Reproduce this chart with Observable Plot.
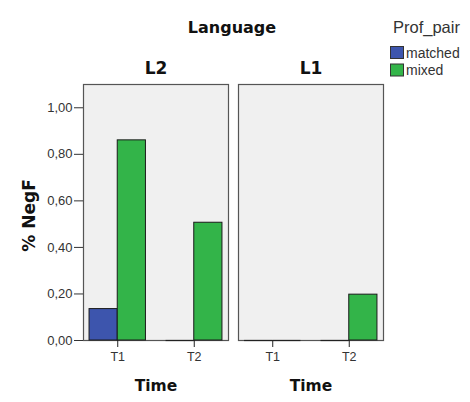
<!DOCTYPE html>
<html>
<head>
<meta charset="utf-8">
<script src="https://cdn.jsdelivr.net/npm/d3@7"></script>
<script src="https://cdn.jsdelivr.net/npm/@observablehq/plot@0.6"></script>
<style>
  html, body { margin: 0; padding: 0; background: white; }
  svg { display: block; }
</style>
</head>
<body>
<div id="chart"></div>
<script>
// ---- data ----
const languages = ["L2", "L1"];
const times = ["T1", "T2"];
const profPairs = ["matched", "mixed"];
// order: [L2-T1, L2-T2, L1-T1, L1-T2]
const negF_matched = [0.135, 0.0, 0.0, 0.0];
const negF_mixed   = [0.86, 0.506, 0.0, 0.197];
const yTicks = [0, 0.2, 0.4, 0.6, 0.8, 1.0];
const colors = ["#3d55ad", "#33b449"];

const data = [];
languages.forEach((lang, li) => {
  times.forEach((t, ti) => {
    const k = li * 2 + ti;
    data.push({Language: lang, Time: t, Prof_pair: "matched", value: negF_matched[k]});
    data.push({Language: lang, Time: t, Prof_pair: "mixed", value: negF_mixed[k]});
  });
});

// ---- layout ----
const W = 470, H = 402;
const mL = 83, mR = 87, mT = 84, mB = 62;
const fxPadIn = 0.0645;
const xPadIn = 0.263, xPadOut = 0.079;
const innerW = W - mL - mR;
const fxStep = innerW / (2 - fxPadIn);
const fxBw = fxStep * (1 - fxPadIn);
const xStep = fxBw / (2 - xPadIn + 2 * xPadOut);
const xBw = xStep * (1 - xPadIn);
const half = xBw / 2;

const fmt = d => d.toFixed(2).replace(".", ",");
const font = "'Liberation Sans', Arial, sans-serif";
const boldFont = "'DejaVu Sans', Verdana, sans-serif";

const matched = data.filter(d => d.Prof_pair === "matched");
const mixed = data.filter(d => d.Prof_pair === "mixed");

const svg = Plot.plot({
  width: W, height: H,
  marginTop: mT, marginBottom: mB, marginLeft: mL, marginRight: mR,
  style: {fontFamily: font, background: "white", color: "#222", overflow: "visible"},
  fx: {domain: languages, paddingInner: fxPadIn, paddingOuter: 0, axis: null, label: null, round: false},
  x: {domain: times, paddingInner: xPadIn, paddingOuter: xPadOut, axis: null, round: false},
  y: {domain: [0, 1.1], axis: null},
  color: {domain: profPairs, range: colors},
  marks: [
    Plot.frame({fill: "#f0f0f0", stroke: "#555", strokeWidth: 1.2}),
    Plot.axisFx({anchor: "top", tickSize: 0, tickPadding: 11, fontSize: 17, fontWeight: "bold", fontFamily: boldFont, label: null, fill: "#111"}),
    Plot.axisY({ticks: yTicks, tickFormat: fmt, tickSize: 9, tickPadding: 2, fontSize: 13, label: null, stroke: "#333", fill: "#333"}),
    Plot.axisX({tickSize: 7, tickPadding: 5, fontSize: 12.5, label: null, stroke: "#222", fill: "#333"}),
    Plot.tickY(matched.filter(d => d.value === 0), {fx: "Language", x: "Time", y: "value", insetRight: half, stroke: "#222", strokeWidth: 1.2}),
    Plot.tickY(mixed.filter(d => d.value === 0), {fx: "Language", x: "Time", y: "value", insetLeft: half, stroke: "#222", strokeWidth: 1.2}),
    Plot.barY(matched, {fx: "Language", x: "Time", y: "value", fill: "Prof_pair", insetRight: half, stroke: "#1a1a1a", strokeWidth: 1}),
    Plot.barY(mixed, {fx: "Language", x: "Time", y: "value", fill: "Prof_pair", insetLeft: half, stroke: "#1a1a1a", strokeWidth: 1}),
    Plot.text(languages, {fx: d => d, text: () => "Time", frameAnchor: "bottom", dy: 50, fontSize: 15.5, fontWeight: "bold", fontFamily: boldFont, fill: "#111"}),
    Plot.text(["% NegF"], {fx: () => languages[0], text: d => d, frameAnchor: "left", textAnchor: "middle", rotate: -90, dx: -54, dy: 3, fontSize: 17, fontWeight: "bold", fontFamily: boldFont, fill: "#111"})
  ]
});

// title & legend
const s = d3.select(svg);
s.append("text").attr("x", 232).attr("y", 33).attr("text-anchor", "middle")
  .attr("font-family", boldFont).attr("font-size", 16).attr("font-weight", "bold").attr("fill", "#111")
  .text("Language");
s.append("text").attr("x", 393).attr("y", 33).attr("text-anchor", "start")
  .attr("font-family", font).attr("font-size", 16.5).attr("fill", "#333")
  .text("Prof_pair");
const colorScale = Plot.scale({color: {domain: profPairs, range: colors}});
profPairs.forEach((p, i) => {
  s.append("rect").attr("x", 390.5).attr("y", 46.5 + i * 17.5).attr("width", 13).attr("height", 12)
    .attr("fill", colorScale.apply(p)).attr("stroke", "#333");
  s.append("text").attr("x", 406).attr("y", 57.5 + i * 17.5).attr("text-anchor", "start")
    .attr("font-family", font).attr("font-size", 14).attr("fill", "#333")
    .text(p);
});

document.getElementById("chart").appendChild(svg);
</script>
</body>
</html>
